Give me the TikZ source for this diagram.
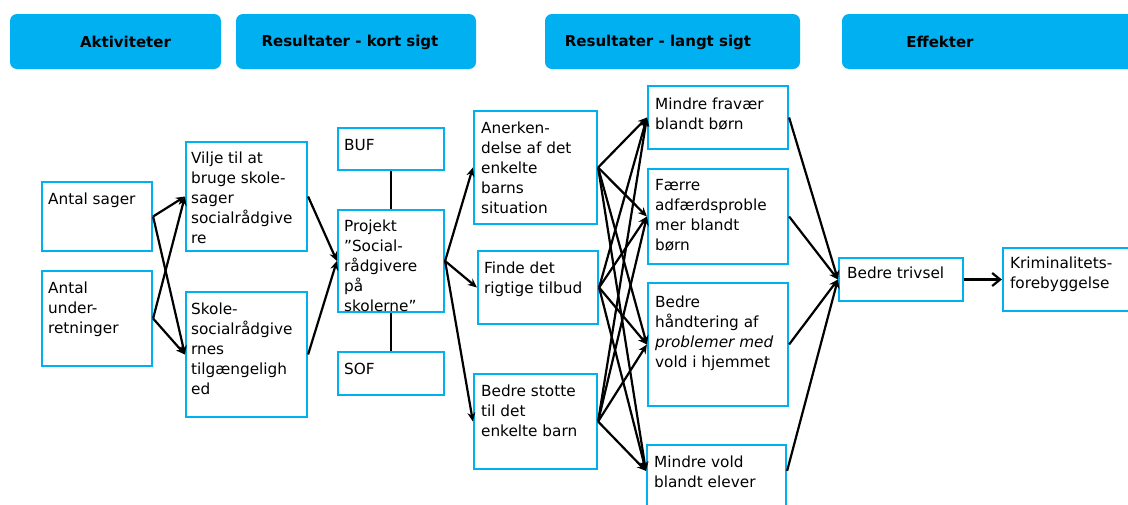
\documentclass[tikz,border=0pt]{standalone}
\usepackage{fontspec}
\setmainfont{DejaVu Sans}
\usetikzlibrary{arrows.meta}
\definecolor{cyanbox}{HTML}{00B0F0}
\begin{document}
\begin{tikzpicture}[x=1pt,y=-1pt,
  hdr/.style={fill=cyanbox, rounded corners=7pt, inner sep=0pt},
  hdrtxt/.style={font=\fontsize{15}{20}\selectfont\bfseries, inner sep=0pt},
  box/.style={draw=cyanbox, line width=2.2pt, inner sep=0pt},
  txt/.style={font=\fontsize{15.3}{20}\selectfont, align=left, inner sep=0pt, anchor=north west},
  conn/.style={draw, line width=2.2pt, -{Stealth[length=9pt,width=8pt]}},
  plain/.style={draw, line width=2.4pt}
]
\useasboundingbox (0,0) rectangle (1128,504);
\clip (0,0) rectangle (1128,504);

% headers
\node[hdr, minimum width=211pt, minimum height=55pt] (h1) at (115.5,41.5) {};
\node[hdr, minimum width=240pt, minimum height=55pt] (h2) at (356,41.5) {};
\node[hdr, minimum width=255pt, minimum height=55pt] (h3) at (672.5,41.5) {};
\node[hdr, minimum width=298pt, minimum height=55pt] (h4) at (991,41.5) {};
\node[hdrtxt] (h1t) at (125.5,42) {Aktiviteter};
\node[hdrtxt] (h2t) at (350,42) {Resultater - kort sigt};
\node[hdrtxt] (h3t) at (658,42) {Resultater - langt sigt};
\node[hdrtxt] (h4t) at (940,42) {Effekter};

% boxes
\node[box, minimum width=110pt, minimum height=69pt]  (as)  at (97,216.5) {};
\node[box, minimum width=110pt, minimum height=95pt]  (au)  at (97,318.5) {};
\node[box, minimum width=121pt, minimum height=109pt] (vi)  at (246.5,196.5) {};
\node[box, minimum width=121pt, minimum height=125pt] (sk)  at (246.5,354.5) {};
\node[box, minimum width=106pt, minimum height=42pt]  (buf) at (391,149) {};
\node[box, minimum width=106pt, minimum height=102pt] (pr)  at (391,261) {};
\node[box, minimum width=106pt, minimum height=43pt]  (sof) at (391,373.5) {};
\node[box, minimum width=123pt, minimum height=113pt] (an)  at (535.5,167.5) {};
\node[box, minimum width=120pt, minimum height=73pt]  (fi)  at (538,287.5) {};
\node[box, minimum width=123pt, minimum height=95pt]  (bs)  at (535.5,421.5) {};
\node[box, minimum width=140pt, minimum height=63pt]  (mf)  at (718,117.5) {};
\node[box, minimum width=140pt, minimum height=95pt]  (fa)  at (718,216.5) {};
\node[box, minimum width=140pt, minimum height=123pt] (bh)  at (718,344.5) {};
\node[box, minimum width=139pt, minimum height=75pt]  (mv)  at (716.5,482.5) {};
\node[box, minimum width=124pt, minimum height=43pt]  (bt)  at (901,279.5) {};
\node[box, minimum width=137pt, minimum height=63pt]  (kf)  at (1071.5,279.5) {};
\coordinate (mvin) at ([yshift=-27pt]mv.north west);
\coordinate (mvout) at ([yshift=-27pt]mv.north east);

% texts
\node[txt] (tas) at ([shift={(7pt,-9pt)}]as.north west) {\strut Antal sager};
\node[txt] (tau) at ([shift={(7pt,-9pt)}]au.north west) {\strut Antal\\under-\\retninger};
\node[txt] (tvi) at ([shift={(6pt,-8pt)}]vi.north west) {\strut Vilje til at\\bruge skole-\\sager\\socialrådgive\\re};
\node[txt] (tsk) at ([shift={(6pt,-9pt)}]sk.north west) {\strut Skole-\\socialrådgive\\rnes\\tilgængeligh\\ed};
\node[txt] (tbuf) at ([shift={(7pt,-9pt)}]buf.north west) {\strut BUF};
\node[txt] (tpr) at ([shift={(7pt,-8pt)}]pr.north west) {\strut Projekt\\”Social-\\rådgivere\\på\\skolerne”};
\node[txt] (tsof) at ([shift={(7pt,-9pt)}]sof.north west) {\strut SOF};
\node[txt] (tan) at ([shift={(8pt,-9pt)}]an.north west) {\strut Anerken-\\delse af det\\enkelte\\barns\\situation};
\node[txt] (tfi) at ([shift={(7pt,-9pt)}]fi.north west) {\strut Finde det\\rigtige tilbud};
\node[txt] (tbs) at ([shift={(8pt,-9pt)}]bs.north west) {\strut Bedre stotte\\til det\\enkelte barn};
\node[txt] (tmf) at ([shift={(8pt,-10pt)}]mf.north west) {\strut Mindre fravær\\blandt børn};
\node[txt] (tfa) at ([shift={(8pt,-8pt)}]fa.north west) {\strut Færre\\adfærdsproble\\mer blandt\\børn};
\node[txt] (tbh) at ([shift={(8pt,-11pt)}]bh.north west) {\strut Bedre\\håndtering af\\\textit{problemer med}\\vold i hjemmet};
\node[txt] (tmv) at ([shift={(8pt,-9pt)}]mv.north west) {\strut Mindre vold\\blandt elever};
\node[txt] (tbt) at ([shift={(9pt,-7pt)}]bt.north west) {\strut Bedre trivsel};
\node[txt] (tkf) at ([shift={(8pt,-7pt)}]kf.north west) {\strut Kriminalitets-\\forebyggelse};

% connectors
\draw[conn] (as.east) -- (vi.west);
\draw[conn] (as.east) -- (sk.west);
\draw[conn] (au.east) -- (vi.west);
\draw[conn] (au.east) -- (sk.west);
\draw[conn] (vi.east) -- (pr.west);
\draw[conn] (sk.east) -- (pr.west);
\draw[plain] (buf.south) -- (pr.north);
\draw[plain] (pr.south) -- (sof.north);
\draw[conn] (pr.east) -- (an.west);
\draw[conn] (pr.east) -- (fi.west);
\draw[conn] (pr.east) -- (bs.west);
\foreach \s in {an,fi,bs}{
  \draw[conn] (\s.east) -- (mf.west);
  \draw[conn] (\s.east) -- (fa.west);
  \draw[conn] (\s.east) -- (bh.west);
  \draw[conn] (\s.east) -- (mvin);
}
\draw[conn] (mf.east) -- (bt.west);
\draw[conn] (fa.east) -- (bt.west);
\draw[conn] (bh.east) -- (bt.west);
\draw[conn] (mvout) -- (bt.west);
\draw[draw, line width=2.2pt, -{Straight Barb[length=8pt,width=13pt]}] (bt.east) -- (kf.west);
\end{tikzpicture}
\end{document}
